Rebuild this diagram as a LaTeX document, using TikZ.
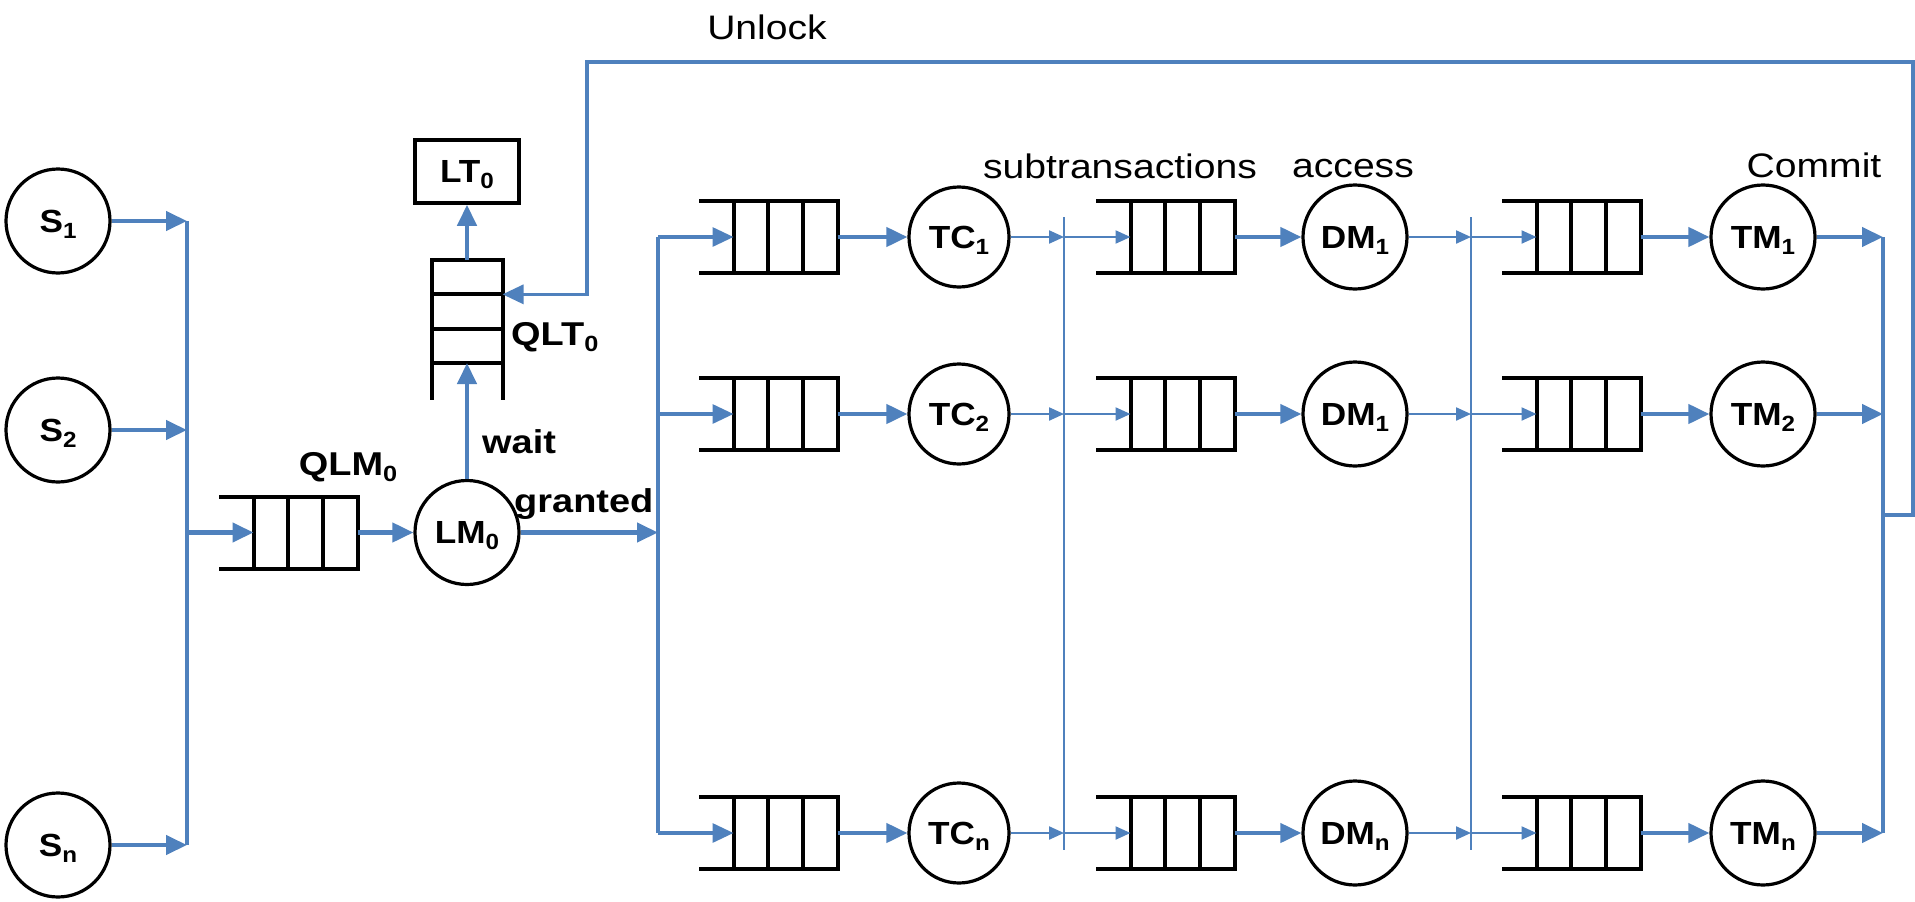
\documentclass[tikz,border=0pt]{standalone}
\usepackage{fontspec}
\usetikzlibrary{arrows.meta,calc}
\newfontfamily\lab[FakeStretch=1.1]{Liberation Sans}
\newfontfamily\labw[FakeStretch=1.15]{Liberation Sans}
\definecolor{lb}{HTML}{4F81BD}
\newcommand\mybf{\lab\bfseries\fontsize{32}{38}\selectfont}
\newcommand\mylbf{\labw\bfseries\fontsize{33}{38}\selectfont}
\newcommand\myrm{\labw\fontsize{34}{40}\selectfont}
\newcommand\subx[1]{\raisebox{-6pt}[0pt][0pt]{\fontsize{22}{22}\selectfont #1}}
\tikzset{
 circ/.style={circle, draw=black, line width=3.2pt, minimum size=104pt, inner sep=0pt, font=\mybf},
 qbox/.style={rectangle, draw=black, line width=4pt, inner sep=0pt, outer sep=0pt},
 qline/.style={draw=black, line width=4pt},
 thickb/.style={draw=lb, line width=4.2pt},
 medb/.style={draw=lb, line width=3.2pt},
 thinb/.style={draw=lb, line width=2.2pt},
 bigtip/.style={-{Triangle[length=21pt,width=19pt]}},
 smalltip/.style={-{Triangle[length=15pt,width=13pt]}},
 lbl/.style={font=\myrm, inner sep=0pt},
 blbl/.style={font=\mylbf, inner sep=0pt},
}
\newcommand\hqueue[3]{%
 \node[qbox, minimum width=104pt, minimum height=72pt] (#1) at (#2,#3) {};
 \draw[qline] ($(#1.north west)!1/3!(#1.north east)$) -- ($(#1.south west)!1/3!(#1.south east)$);
 \draw[qline] ($(#1.north west)!2/3!(#1.north east)$) -- ($(#1.south west)!2/3!(#1.south east)$);
 \draw[qline] (#1.north west) -- ++(-35,0);
 \draw[qline] (#1.south west) -- ++(-35,0);
}
\begin{document}
\begin{tikzpicture}[x=1pt, y=-1pt]
\path[fill=white, use as bounding box] (0,0) rectangle (1915,902);

% bus coordinates
\coordinate (B1) at (187,0);
\coordinate (G) at (658,0);
\coordinate (B2) at (1064,0);
\coordinate (B3) at (1471,0);
\coordinate (C) at (1883,0);
\coordinate (R) at (1913,0);
\coordinate (UL) at (587,62);
\coordinate (J) at (1883,515);

% sources
\node[circ] (S1) at (58,221) {S\subx{1}};
\node[circ] (S2) at (58,430) {S\subx{2}};
\node[circ] (Sn) at (58,845) {S\subx{n}};

\draw[thickb,bigtip] (S1.east) -- (S1.east -| B1);
\draw[thickb,bigtip] (S2.east) -- (S2.east -| B1);
\draw[thickb,bigtip] (Sn.east) -- (Sn.east -| B1);
\draw[medb] (S1.east -| B1) -- (Sn.east -| B1);

% lock manager
\hqueue{QLM}{305.5}{532.5}
\node[circ] (LM) at (467,532.5) {LM\subx{0}};
\draw[thickb,bigtip] (QLM.west -| B1) -- (QLM.west);
\draw[thickb,bigtip] (QLM.east) -- (LM.west);

% vertical queue QLT0
\node[qbox, minimum width=71pt, minimum height=103pt] (QLT) at (467,311.5) {};
\draw[qline] ($(QLT.north west)!1/3!(QLT.south west)$) -- ($(QLT.north east)!1/3!(QLT.south east)$);
\draw[qline] ($(QLT.north west)!2/3!(QLT.south west)$) -- ($(QLT.north east)!2/3!(QLT.south east)$);
\draw[qline] (QLT.south west) -- ++(0,37);
\draw[qline] (QLT.south east) -- ++(0,37);
\coordinate (QLTin) at ($(QLT.north east)!1/3!(QLT.south east)$);

\node[rectangle, draw=black, line width=3.5pt, minimum width=104pt, minimum height=63pt, inner sep=0pt, font=\mybf] (LT) at (467,171.5) {LT\subx{0}};

\draw[thickb,bigtip] (LM.north) -- (QLT.south);
\draw[thickb,bigtip] (QLT.north) -- (LT.south);
\draw[thickb,bigtip] (LM.east) -- (LM.east -| G);

% labels
\node[blbl, anchor=base] (qlmlbl) at (348,475) {QLM\subx{0}};
\node[blbl, anchor=base west] (qltlbl) at (511,345) {QLT\subx{0}};
\node[blbl, anchor=base west] (waitlbl) at (482,453) {wait};
\node[blbl, anchor=base west] (grantlbl) at (514,512) {granted};
\node[lbl, anchor=base] (unlock) at (767,39) {Unlock};
\node[lbl, anchor=base] (subt) at (1120,178) {subtransactions};
\node[lbl, anchor=base] (acc) at (1353,177) {access};
\node[lbl, anchor=base] (com) at (1814,177) {Commit};

% rows
\foreach \i/\y/\s/\d in {1/237/1/1, 2/414/2/1, n/833/n/n}{
 \hqueue{Qa\i}{785.5}{\y}
 \node[circ, minimum size=100pt] (TC\i) at (959,\y) {TC\subx{\s}};
 \hqueue{Qb\i}{1182.5}{\y}
 \node[circ] (DM\i) at (1355,\y) {DM\subx{\d}};
 \hqueue{Qc\i}{1588.5}{\y}
 \node[circ] (TM\i) at (1763,\y) {TM\subx{\s}};
 \draw[medb,bigtip] (Qa\i.west -| G) -- (Qa\i.west);
 \draw[thickb,bigtip] (Qa\i.east) -- (TC\i.west);
 \draw[thinb,smalltip] (TC\i.east) -- (TC\i.east -| B2);
 \draw[thinb,smalltip] (Qb\i.west -| B2) -- (Qb\i.west);
 \draw[thickb,bigtip] (Qb\i.east) -- (DM\i.west);
 \draw[thinb,smalltip] (DM\i.east) -- (DM\i.east -| B3);
 \draw[thinb,smalltip] (Qc\i.west -| B3) -- (Qc\i.west);
 \draw[thickb,bigtip] (Qc\i.east) -- (TM\i.west);
 \draw[thickb,bigtip] (TM\i.east) -- (TM\i.east -| C);
}

% buses
\draw[medb] (Qa1.west -| G) -- (Qan.west -| G);
\draw[thinb] ($(TC1.east -| B2)+(0,-20)$) -- ($(TCn.east -| B2)+(0,17)$);
\draw[thinb] ($(DM1.east -| B3)+(0,-20)$) -- ($(DMn.east -| B3)+(0,17)$);
\draw[thickb] (TM1.east -| C) -- (TMn.east -| C);

% unlock feedback
\draw[medb,bigtip] (J) -- (J -| R) -- (UL -| R) -- (UL) |- (QLTin);
\end{tikzpicture}
\end{document}
